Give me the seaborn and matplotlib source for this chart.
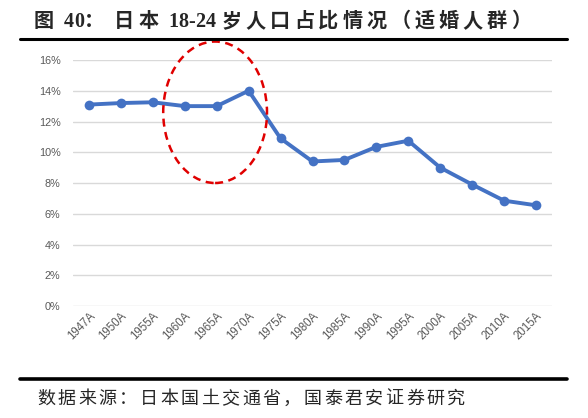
import matplotlib
matplotlib.use('Agg')
import matplotlib.pyplot as plt
from matplotlib.patches import Ellipse
from matplotlib.lines import Line2D
import seaborn as sns
import pandas as pd

years = ['1947A', '1950A', '1955A', '1960A', '1965A', '1970A', '1975A', '1980A',
         '1985A', '1990A', '1995A', '2000A', '2005A', '2010A', '2015A']
share = [13.1, 13.2, 13.25, 13.0, 13.0, 14.0, 10.9, 9.4,
         9.5, 10.35, 10.75, 9.0, 7.9, 6.85, 6.55]
yticks = [0, 2, 4, 6, 8, 10, 12, 14, 16]

title = '图 40： 日本 18-24 岁人口占比情况（适婚人群）'
source = '数据来源：日本国土交通省，国泰君安证券研究'

W, H = 588, 418


def spaced_text(fig, x0, y0, s, size, track, **kw):
    # put chars one by one so CJK glyphs get the extra spacing of the original
    r = fig.canvas.get_renderer()
    x = x0
    for ch in s:
        if ch == ' ':
            x += size * 100 / 72 * 0.3
            continue
        t = fig.text(x / W, 1 - y0 / H, ch, fontsize=size, va='baseline', ha='left', **kw)
        w = t.get_window_extent(renderer=r).width
        x += w + (track if ord(ch) > 0x2E80 else 0)


df = pd.DataFrame({'year': years, 'share': share})

sns.set_style('white')
plt.rcParams['font.family'] = ['Liberation Sans', 'Noto Sans CJK SC', 'DejaVu Sans']

fig = plt.figure(figsize=(W / 100, H / 100), dpi=100)
ax = fig.add_axes([73 / W, 1 - 306 / H, 479 / W, 246 / H])

sns.lineplot(data=df, x='year', y='share', sort=False, ax=ax,
             color='#4472C4', linewidth=2.8, marker='o', markersize=7,
             markeredgewidth=0, zorder=3)

ax.set_xlim(-0.5, len(years) - 0.5)
ax.set_ylim(0, 16)
ax.set_yticks(yticks)
ax.set_yticklabels([f'{v}%' for v in yticks])
ax.yaxis.grid(True, color='#D9D9D9', linewidth=1)
ax.xaxis.grid(False)
for s in ax.spines.values():
    s.set_visible(False)
ax.set_xlabel('')
ax.set_ylabel('')
ax.tick_params(axis='y', length=0, pad=9, labelsize=7.8, labelcolor='#595959')
ax.tick_params(axis='x', length=0, pad=3, labelsize=8.3, labelcolor='#595959')
for lab in ax.get_xticklabels():
    lab.set_rotation(45)
    lab.set_ha('right')
    lab.set_rotation_mode('anchor')

# red dashed circle around 1960-1970
ell = Ellipse((3.95, 12.6), width=3.25, height=9.2, fill=False,
              edgecolor='#E00000', linewidth=1.8, linestyle=(0, (3.2, 2.2)),
              clip_on=False, zorder=4)
ax.add_patch(ell)

spaced_text(fig, 34, 27, title, 14.5, 4.0, fontweight='bold',
            family=['Liberation Serif', 'Noto Sans CJK SC'])
fig.add_artist(Line2D([20 / W, 567 / W], [1 - 39 / H] * 2,
                      transform=fig.transFigure, color='black', linewidth=2.2))
fig.add_artist(Line2D([20 / W, 567 / W], [1 - 379 / H] * 2,
                      transform=fig.transFigure, color='black', linewidth=2.6))
spaced_text(fig, 37, 404, source, 13, 2.5,
            family=['Noto Sans CJK SC', 'DejaVu Sans'])

fig.savefig('out.png', dpi=100)
